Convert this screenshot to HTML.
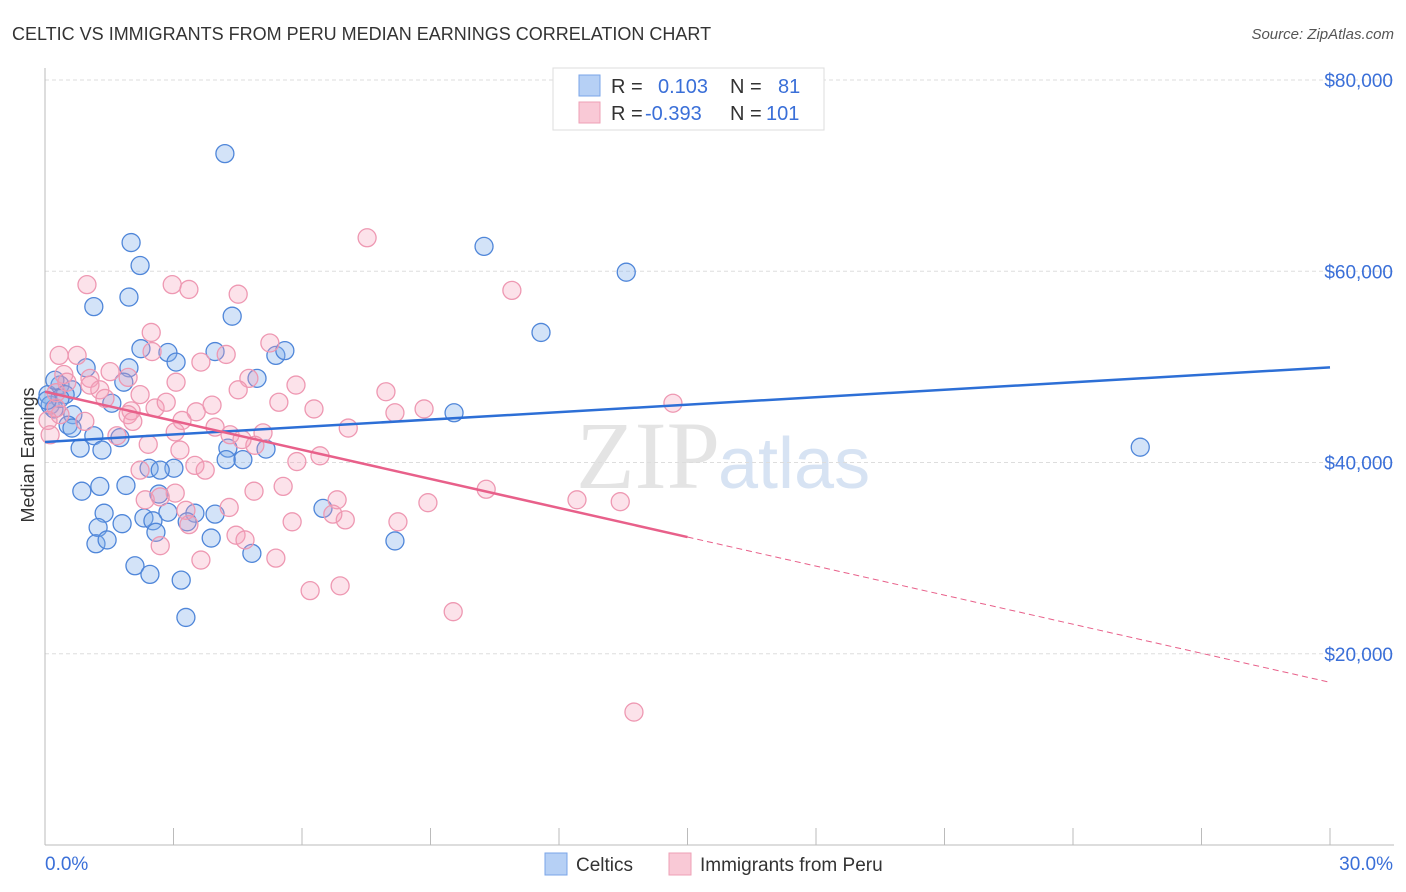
<!DOCTYPE html>
<html><head><meta charset="utf-8"><style>
body{margin:0;background:#fff;font-family:"Liberation Sans",sans-serif}
svg{display:block}
</style></head><body>
<svg id="chart" width="1406" height="892">
<text x="12" y="40" font-size="18" fill="#333">CELTIC VS IMMIGRANTS FROM PERU MEDIAN EARNINGS CORRELATION CHART</text>
<text x="1394" y="39" font-size="15" fill="#555" font-style="italic" text-anchor="end">Source: ZipAtlas.com</text>
<text x="720" y="488" font-size="96" fill="#e4e4e4" font-family="Liberation Serif" text-anchor="end">ZIP</text>
<text x="718" y="488" font-size="72" fill="#d7e3f3">atlas</text>
<g id="grid"></g>
<g id="axes"></g>
<g id="pts"></g>
<g id="trend"></g>
<text transform="translate(34,455) rotate(-90)" font-size="18" fill="#333" text-anchor="middle">Median Earnings</text>
<g>
<rect x="553" y="68" width="271" height="62" fill="#fff" stroke="#ddd"/>
<rect x="579" y="75" width="21" height="21" fill="#b6d0f5" stroke="#7aa5e8"/>
<text x="611" y="93" font-size="20" fill="#333">R =</text><text x="658" y="93" font-size="20" fill="#3a6fd8">0.103</text>
<text x="730" y="93" font-size="20" fill="#333">N =</text><text x="778" y="93" font-size="20" fill="#3a6fd8">81</text>
<rect x="579" y="102" width="21" height="21" fill="#f9c9d6" stroke="#eea0b6"/>
<text x="611" y="120" font-size="20" fill="#333">R =</text><text x="645" y="120" font-size="20" fill="#3a6fd8">-0.393</text>
<text x="730" y="120" font-size="20" fill="#333">N =</text><text x="766" y="120" font-size="20" fill="#3a6fd8">101</text>
</g>
<g><rect x="545" y="853" width="22" height="22" fill="#b6d0f5" stroke="#7aa5e8"/><text x="576" y="871" font-size="19" fill="#333">Celtics</text></g>
<g><rect x="669" y="853" width="22" height="22" fill="#f9c9d6" stroke="#eea0b6"/><text x="700" y="871" font-size="19" fill="#333">Immigrants from Peru</text></g>
</svg>
<script>
const xTicks=[0,3,6,9,12,15,18,21,24,27,30];
const yTicks=[20000,40000,60000,80000];
const yTickLabels=["$20,000","$40,000","$60,000","$80,000"];
const celticX=[4.20,2.01,10.25,13.57,2.22,1.96,1.14,11.58,4.37,2.24,2.87,3.97,5.39,5.60,3.06,1.96,0.96,4.95,1.84,0.35,0.63,0.07,0.12,1.56,0.65,9.55,0.54,0.63,1.14,1.75,0.82,1.33,4.27,5.16,4.62,3.01,2.43,4.23,0.86,1.28,1.89,2.66,3.50,1.38,6.49,2.87,2.31,2.52,3.97,1.80,1.24,3.32,2.59,3.88,1.19,1.45,8.17,4.83,2.10,2.45,3.18,3.29,25.57,0.23,0.47,0.21,2.69,0.35,0.05];
const celticY=[72.3,63.0,62.6,59.9,60.6,57.3,56.3,53.6,55.3,51.9,51.5,51.6,51.2,51.7,50.5,49.9,49.9,48.8,48.4,48.1,47.6,47.1,46.0,46.2,45.0,45.2,43.9,43.6,42.8,42.6,41.5,41.3,41.5,41.4,40.3,39.4,39.4,40.3,37.0,37.5,37.6,36.7,34.7,34.7,35.2,34.8,34.2,33.9,34.6,33.6,33.2,33.8,32.7,32.1,31.5,31.9,31.8,30.5,29.2,28.3,27.7,23.8,41.6,48.6,47.1,45.6,39.2,46.7,46.5];
const peruX=[7.52,0.98,2.97,3.36,4.51,10.90,2.48,5.25,0.33,0.75,4.23,3.64,2.50,3.06,1.52,1.05,0.44,1.28,1.05,1.94,4.76,5.86,7.96,0.51,0.26,1.40,2.22,2.57,2.01,2.83,3.53,3.90,4.51,5.46,6.28,8.17,8.85,14.66,7.08,3.20,3.04,3.97,4.32,5.09,1.94,1.68,2.41,2.05,4.90,5.88,6.42,3.15,3.50,4.60,0.93,0.35,2.22,3.74,2.34,2.69,3.04,4.88,5.56,6.82,7.01,8.94,10.30,12.42,13.43,4.30,3.29,3.36,2.69,4.46,4.67,5.77,6.72,8.24,3.64,5.39,6.19,6.89,9.53,13.75,0.26,0.07,0.12];
const peruY=[63.5,58.6,58.6,58.1,57.6,58.0,53.6,52.5,51.2,51.2,51.3,50.5,51.6,48.4,49.5,48.8,49.2,47.6,48.1,48.9,48.8,48.1,47.4,48.4,47.3,46.7,47.1,45.7,45.4,46.3,45.3,46.0,47.6,46.3,45.6,45.2,45.6,46.2,43.6,44.4,43.2,43.7,42.9,43.1,45.0,42.8,41.9,44.3,41.8,40.1,40.7,41.3,39.7,42.4,44.3,45.0,39.2,39.2,36.1,36.4,36.8,37.0,37.5,36.1,34.0,35.8,37.2,36.1,35.9,35.3,35.0,33.5,31.3,32.4,31.9,33.8,34.6,33.8,29.8,30.0,26.6,27.1,24.4,13.9,45.7,44.4,42.9];
const celticTrend=[42150,0.26];   // intercept $, slope $k per %
const peruTrend=[47400,-1.013];
const ns="http://www.w3.org/2000/svg";
const X=v=>45+v/30*1285;
const Y=v=>845-v/80000*765;
function mk(tag,attrs,parent){const e=document.createElementNS(ns,tag);for(const k in attrs)e.setAttribute(k,attrs[k]);document.getElementById(parent).appendChild(e);return e;}
yTicks.forEach((t,i)=>{
 const l=mk('line',{x1:45,x2:1394,y1:Y(t),y2:Y(t),stroke:'#ddd','stroke-dasharray':'4,3'},'grid');
 
 
 const tx=mk('text',{x:1393,y:Y(t)+7,'font-size':19,fill:'#3a6fd8','text-anchor':'end'},'grid');
 tx.textContent=yTickLabels[i];
 
 
});
const ax=mk('line',{x1:45,x2:45,y1:68,y2:845,stroke:'#bbb'},'axes');


const bx=mk('line',{x1:45,x2:1394,y1:845,y2:845,stroke:'#bbb'},'axes');


xTicks.forEach(t=>{
 const l=mk('line',{x1:X(t),x2:X(t),y1:828,y2:845,stroke:'#bbb'},'axes');
 
 
});
const x0=mk('text',{x:45,y:870,'font-size':19,fill:'#3a6fd8'},'axes');x0.textContent=xTicks[0].toFixed(1)+'%';


const x1=mk('text',{x:1393,y:870,'font-size':19,fill:'#3a6fd8','text-anchor':'end'},'axes');x1.textContent=xTicks[xTicks.length-1].toFixed(1)+'%';


celticX.forEach((x,i)=>{
 const c=mk('circle',{cx:X(x),cy:Y(celticY[i]*1000),r:9,fill:'rgba(130,175,235,0.35)',stroke:'#4f86d9','stroke-width':1.3},'pts');
 
 
});
peruX.forEach((x,i)=>{
 const c=mk('circle',{cx:X(x),cy:Y(peruY[i]*1000),r:9,fill:'rgba(245,160,185,0.3)',stroke:'#ee98b2','stroke-width':1.3},'pts');
 
 
});
const cy=x=>celticTrend[0]+celticTrend[1]*1000*x;
const py=x=>peruTrend[0]+peruTrend[1]*1000*x;
const t1=mk('line',{x1:X(0),y1:Y(cy(0)),x2:X(30),y2:Y(cy(30)),stroke:'#2d6fd6','stroke-width':2.5},'trend');


const t2=mk('line',{x1:X(0),y1:Y(py(0)),x2:X(15),y2:Y(py(15)),stroke:'#e8608a','stroke-width':2.5},'trend');


const t3=mk('line',{x1:X(15),y1:Y(py(15)),x2:X(30),y2:Y(py(30)),stroke:'#e8608a','stroke-width':1,'stroke-dasharray':'6,4'},'trend');


</script>
</body></html>
